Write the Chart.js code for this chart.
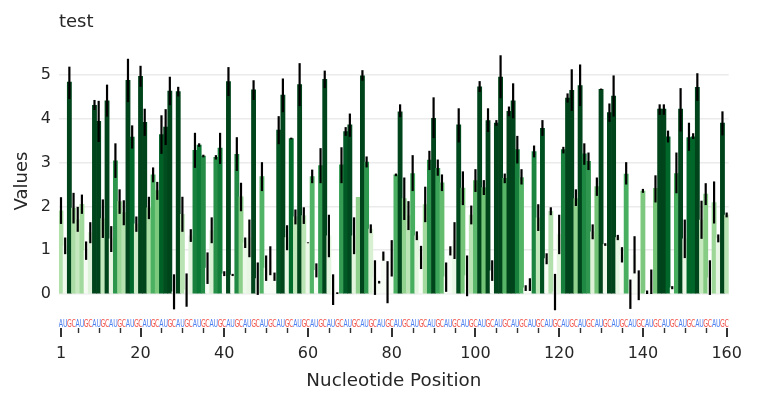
<!DOCTYPE html>
<html><head><meta charset="utf-8">
<script src="https://cdn.jsdelivr.net/npm/chart.js@4"></script>
<style>html,body{margin:0;padding:0;background:#fff}</style>
</head><body>
<canvas id="c" width="758" height="403"></canvas>
<script>
const titleText = "test";
const xTitle = "Nucleotide Position";
const yTitle = "Values";
const sequence = "AUGC".repeat(40);
const positions = Array.from({length: 160}, (_, i) => i + 1);
const majorTicks = [1, 20, 40, 60, 80, 100, 120, 140, 160];
const minorTicks = [5,10,15,25,30,35,45,50,55,65,70,75,85,90,95,105,110,115,125,130,135,145,150,155];
const yTicks = [0, 1, 2, 3, 4, 5];

const values = [
1.90,1.10,4.84,1.96,1.70,2.05,0.99,1.40,4.31,3.94,
1.72,4.41,1.26,3.04,2.11,1.86,4.88,3.58,1.60,4.97,
3.92,1.97,2.72,2.36,3.64,3.81,4.63,0.05,4.62,1.82,
0.09,1.33,3.28,3.40,3.15,0.59,1.45,3.12,3.33,0.46,
4.85,0.43,3.19,2.22,1.17,1.28,4.66,0.35,2.68,0.59,
0.76,0.40,3.74,4.54,1.29,3.55,1.76,4.78,1.79,1.17,
2.68,0.54,2.93,4.90,1.33,0.10,0.02,2.95,3.71,3.86,
1.33,2.21,4.98,3.01,1.48,0.38,0.27,0.87,0.27,0.81,
2.72,4.16,2.18,1.79,2.75,1.33,0.84,2.04,3.06,4.01,
2.87,2.54,0.39,0.98,1.22,3.86,2.42,0.42,1.80,2.59,
4.73,2.43,3.96,0.53,3.90,4.95,2.64,4.17,4.41,3.30,
2.66,0.14,0.21,3.25,1.74,3.78,0.81,1.89,0.05,1.36,
3.30,4.47,4.65,2.18,4.76,3.20,3.03,1.42,2.45,4.67,
1.13,4.14,4.52,1.29,0.89,2.74,0.00,0.89,0.21,2.35,
0.05,0.28,2.41,4.22,4.22,3.59,0.14,2.75,4.22,1.26,
3.57,3.59,4.72,1.69,2.28,0.37,2.09,1.27,3.90,1.80
];
const errLo = [
1.60,0.91,4.45,1.61,1.42,1.83,0.78,1.16,4.20,3.47,
1.28,4.05,0.96,2.65,1.83,1.57,4.38,3.32,1.42,4.73,
3.61,1.71,2.55,2.15,3.20,3.40,4.31,-0.35,4.51,1.42,
-0.29,1.19,2.88,3.36,3.12,0.23,1.16,3.07,2.97,0.41,
4.52,0.41,2.81,1.89,1.05,0.84,4.43,-0.02,2.35,0.30,
0.43,0.30,3.42,4.15,1.00,3.53,1.59,4.29,1.60,1.16,
2.53,0.38,2.53,4.70,0.84,-0.25,0.00,2.53,3.61,3.59,
0.91,2.21,4.87,2.89,1.39,-0.02,0.24,0.76,-0.21,0.40,
2.69,4.04,1.69,1.46,2.35,1.23,0.57,1.64,2.83,3.56,
2.70,2.35,0.05,0.88,0.80,3.46,2.03,-0.05,1.59,2.33,
4.61,2.26,3.70,0.30,3.84,4.47,2.53,4.06,4.01,2.98,
2.50,0.07,0.07,3.12,1.44,3.61,0.68,1.80,-0.37,0.91,
3.21,4.37,4.18,2.01,4.29,2.95,2.83,1.25,2.24,4.66,
1.10,3.93,4.05,1.23,0.72,2.50,-0.34,0.47,-0.14,2.31,
0.00,0.00,2.09,4.09,4.09,3.46,0.11,2.30,3.71,0.82,
3.27,3.54,4.41,1.26,2.03,-0.02,1.61,1.18,3.62,1.75
];
const errHi = [
2.21,1.29,5.19,2.31,1.99,2.27,1.20,1.64,4.43,4.41,
2.16,4.78,1.55,3.44,2.39,2.14,5.37,3.85,1.77,5.21,
4.23,2.22,2.89,2.56,4.08,4.22,4.96,0.45,4.73,2.22,
0.47,1.48,3.68,3.44,3.18,0.95,1.75,3.17,3.68,0.52,
5.18,0.46,3.58,2.54,1.29,1.70,4.88,0.72,3.01,0.88,
1.09,0.49,4.06,4.92,1.57,3.57,1.93,5.27,1.98,1.18,
2.84,0.70,3.33,5.10,1.81,0.45,0.04,3.35,3.81,4.12,
1.75,2.21,5.11,3.14,1.59,0.77,0.30,0.97,0.75,1.23,
2.75,4.33,2.66,2.12,3.17,1.43,1.10,2.45,3.27,4.49,
3.07,2.73,0.72,1.09,1.64,4.24,2.80,0.88,2.02,2.85,
4.86,2.60,4.24,0.77,3.97,5.45,2.75,4.28,4.81,3.61,
2.85,0.20,0.36,3.39,2.05,3.97,0.93,1.98,0.46,1.81,
3.36,4.58,5.13,2.39,5.24,3.44,3.23,1.59,2.66,4.69,
1.16,4.35,4.99,1.35,1.07,3.01,0.33,1.32,0.54,2.40,
0.08,0.56,2.71,4.33,4.33,3.73,0.18,3.23,4.70,1.70,
3.91,3.67,5.04,2.13,2.53,0.77,2.57,1.36,4.17,1.86
];

const GREENS = ['#f7fcf5','#e5f5e0','#c7e9c0','#a1d99b','#74c476','#41ab5d','#238b45','#006d2c','#00441b'];
function hexToRgb(h){return [1,3,5].map(i=>parseInt(h.substr(i,2),16));}
function greenColor(v){
  let t = (v - 0.95) / 2.95; t = Math.max(0, Math.min(1, t));
  const p = t * (GREENS.length - 1); const i = Math.min(Math.floor(p), GREENS.length - 2); const f = p - i;
  const a = hexToRgb(GREENS[i]), b = hexToRgb(GREENS[i+1]);
  return 'rgb(' + a.map((c,k)=>Math.round(c + (b[k]-c)*f)).join(',') + ')';
}
const baseColors = { A: '#4a7ef0', U: '#4a7ef0', G: '#f0524a', C: '#f0524a' };
const FONT = "'DejaVu Sans', sans-serif";
const TEXT = '#262626';

const decor = {
  id: 'decor',
  afterDatasetsDraw(chart) {
    const ctx = chart.ctx, xs = chart.scales.x, ys = chart.scales.y;
    ctx.save();
    ctx.strokeStyle = '#000'; ctx.lineWidth = 2.2; ctx.lineCap = 'butt';
    positions.forEach((p, i) => {
      const x = xs.getPixelForValue(p);
      ctx.beginPath();
      ctx.moveTo(x, ys.getPixelForValue(errLo[i]));
      ctx.lineTo(x, ys.getPixelForValue(errHi[i]));
      ctx.stroke();
    });
    ctx.restore();
  },
  afterDraw(chart) {
    const ctx = chart.ctx, xs = chart.scales.x, area = chart.chartArea;
    ctx.save();
    // sequence letters
    ctx.font = "10px " + FONT; ctx.textAlign = 'center'; ctx.textBaseline = 'middle';
    for (let i = 0; i < sequence.length; i++) {
      const x = xs.getPixelForValue(positions[i]);
      ctx.save(); ctx.translate(x, 324); ctx.scale(0.62, 1);
      ctx.fillStyle = baseColors[sequence[i]] || '#333';
      ctx.fillText(sequence[i], 0, 0); ctx.restore();
    }
    // tick marks
    ctx.strokeStyle = '#333';
    majorTicks.forEach(v => { const x = Math.round(xs.getPixelForValue(v)); ctx.lineWidth = 2; ctx.beginPath(); ctx.moveTo(x, 328); ctx.lineTo(x, 337); ctx.stroke(); });
    minorTicks.forEach(v => { const x = Math.round(xs.getPixelForValue(v)) + 0.5; ctx.lineWidth = 1.4; ctx.beginPath(); ctx.moveTo(x, 328); ctx.lineTo(x, 333); ctx.stroke(); });
    // title
    ctx.font = "18px " + FONT; ctx.fillStyle = TEXT; ctx.textAlign = 'left'; ctx.textBaseline = 'middle';
    ctx.fillText(titleText, area.left, 22);
    // y axis title
    ctx.save(); ctx.translate(22, 181); ctx.rotate(-Math.PI / 2);
    ctx.textAlign = 'center'; ctx.textBaseline = 'middle';
    ctx.fillText(yTitle, 0, 0); ctx.restore();
    ctx.restore();
  }
};

new Chart(document.getElementById('c'), {
  type: 'bar',
  data: {
    datasets: [{
      data: positions.map((p, i) => ({x: p, y: values[i]})),
      backgroundColor: values.map(greenColor),
      borderWidth: 0,
      categoryPercentage: 1.0,
      barPercentage: 1.0
    }]
  },
  options: {
    responsive: false, animation: false, devicePixelRatio: 1,
    layout: { padding: { left: 0, right: 27, top: 48.7, bottom: 0 } },
    plugins: { legend: { display: false }, tooltip: { enabled: false }, title: { display: false } },
    scales: {
      x: {
        type: 'linear', min: 0.5, max: 160.5, offset: false,
        grid: { display: false, drawTicks: false }, border: { display: false },
        afterBuildTicks: s => { s.ticks = majorTicks.map(v => ({value: v})); },
        afterFit: s => { s.height = 403 - 328.2; },
        ticks: { autoSkip: false, maxRotation: 0, padding: 16, color: TEXT, font: { family: FONT, size: 16 }, callback: v => String(v) },
        title: { display: true, text: xTitle, color: TEXT, font: { family: FONT, size: 18.3 }, padding: { top: 0, bottom: 11 } }
      },
      y: {
        min: -0.78, max: 5.6,
        grid: { color: '#ebebeb', lineWidth: 1.6, drawTicks: false }, border: { display: false },
        afterBuildTicks: s => { s.ticks = yTicks.map(v => ({value: v})); },
        afterFit: s => { s.width = 58.9; },
        ticks: { padding: 8, color: TEXT, font: { family: FONT, size: 16 } },
        title: { display: false }
      }
    }
  },
  plugins: [decor]
});
</script>
</body></html>
